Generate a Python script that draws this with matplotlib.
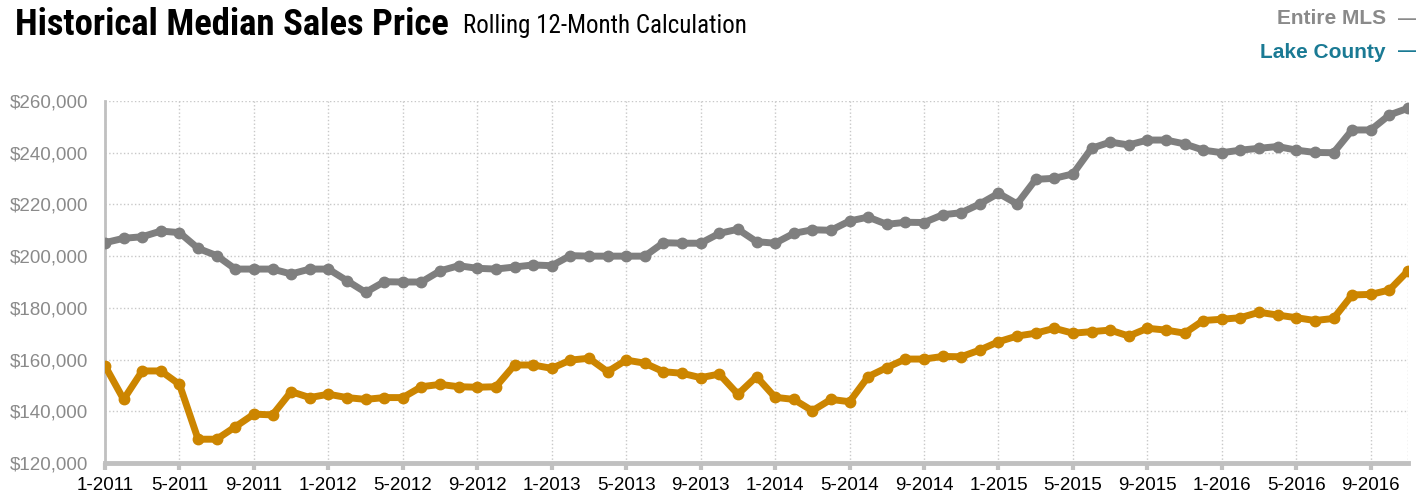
"""Historical median sales price, rolling 12-month."""
import numpy as np
import matplotlib
matplotlib.use("Agg")
import matplotlib.pyplot as plt
from matplotlib import font_manager

plt.rcParams['font.family'] = ['Liberation Sans', 'DejaVu Sans']

# monthly values, 1-2011 .. 11-2016
months = [f"{m}-{y}" for y in range(2011, 2017) for m in range(1, 13)][:71]

entire_mls = [205200, 206900, 207500, 209700, 209100, 203000, 200200, 195000, 195000, 195000,
              193100, 195000, 195000, 190500, 186000, 190100, 190000, 190000, 194300, 196300,
              195300, 195000, 195800, 196600, 196300, 200200, 200000, 200000, 200000, 200000,
              205200, 205000, 205000, 208800, 210400, 205600, 205000, 208800, 210200, 210000,
              213600, 215100, 212300, 213100, 213000, 216000, 216800, 220200, 224300, 220200,
              229700, 230100, 231800, 241700, 244100, 243000, 244900, 244900, 243400, 241000,
              240000, 241000, 241700, 242400, 241000, 240100, 240000, 248800, 248800, 254600,
              257200]

lake_county = [157600, 144600, 155600, 155600, 150400, 129200, 129200, 134000, 138900, 138600,
               147600, 145300, 146600, 145300, 144600, 145300, 145300, 149500, 150400, 149500,
               149300, 149500, 157900, 157900, 156600, 159800, 160500, 155300, 159800, 158600,
               155300, 154700, 153000, 154400, 146600, 153400, 145400, 144600, 140200, 144600,
               143700, 153400, 156900, 160200, 160200, 161200, 161100, 163700, 166900, 169100,
               170200, 172100, 170200, 170800, 171400, 169100, 172100, 171400, 170200, 175100,
               175600, 176200, 178300, 177200, 176200, 175100, 175900, 185000, 185200, 186900,
               194300]

GRAY   = "#7f7f7f"
ORANGE = "#cc8500"
TEAL   = "#1a7a94"
AXIS   = "#c0c0c0"

# pick a condensed face for the heading if one is installed
installed = {f.name for f in font_manager.fontManager.ttflist}
cond = next((n for n in ["Liberation Sans Narrow", "Roboto Condensed", "Open Sans Condensed",
                         "DejaVu Sans Condensed"] if n in installed), "Roboto")
narrow = [cond, 'DejaVu Sans']

x = np.arange(len(months))

fig = plt.figure(figsize=(14.26, 4.94), dpi=100)
ax = fig.add_axes([105/1426, 1 - 463/494, (1408-105)/1426, 362/494])

ax.plot(x, entire_mls, color=GRAY, lw=5, marker="o", ms=7.5, solid_joinstyle="round", zorder=3)
ax.plot(x, lake_county, color=ORANGE, lw=5, marker="o", ms=7.5, solid_joinstyle="round", zorder=3)

ax.set_xlim(0, 70)
ax.set_ylim(120000, 260000)
ticks = x[::4]
ax.set_xticks(ticks)
ax.set_xticklabels([months[i] for i in ticks], fontsize=13.5, color="black")
ax.set_yticks(np.arange(120000, 260001, 20000))
ax.set_yticklabels([f"${v:,.0f}" for v in np.arange(120000, 260001, 20000)],
                   fontsize=13.5, color="#8a8a8a")
ax.tick_params(axis="x", length=5, width=3, color=AXIS, pad=5)
ax.tick_params(axis="y", length=0, pad=12)

ax.grid(True, color="#c8c8c8", ls=":", lw=1)
ax.axvline(70, color="#c8c8c8", ls=":", lw=1)
for s in ["top", "right"]:
    ax.spines[s].set_visible(False)
ax.spines["bottom"].set_color(AXIS)
ax.spines["bottom"].set_linewidth(3.5)
ax.spines["left"].set_color(AXIS)
ax.spines["left"].set_linewidth(2)

fig.text(15/1426, 1 - 35/494, "Historical Median Sales Price", family=narrow,
         fontsize=26.5, fontweight="bold", va="baseline", ha="left")
fig.text(463/1426, 1 - 33/494, "Rolling 12-Month Calculation", family=narrow,
         fontsize=18, va="baseline", ha="left")

fig.text(1386/1426, 1 - 19/494, "Entire MLS", fontsize=15, fontweight="bold",
         color="#8a8a8a", ha="right", va="center")
fig.text(1416/1426, 1 - 19/494, "—", fontsize=13, fontweight="bold", color="#8a8a8a",
         ha="right", va="center")
fig.text(1386/1426, 1 - 52/494, "Lake County", fontsize=15, fontweight="bold",
         color=TEAL, ha="right", va="center")
fig.text(1416/1426, 1 - 52/494, "—", fontsize=13, fontweight="bold", color=TEAL,
         ha="right", va="center")

plt.savefig("out.png", dpi=100)
plt.close()
